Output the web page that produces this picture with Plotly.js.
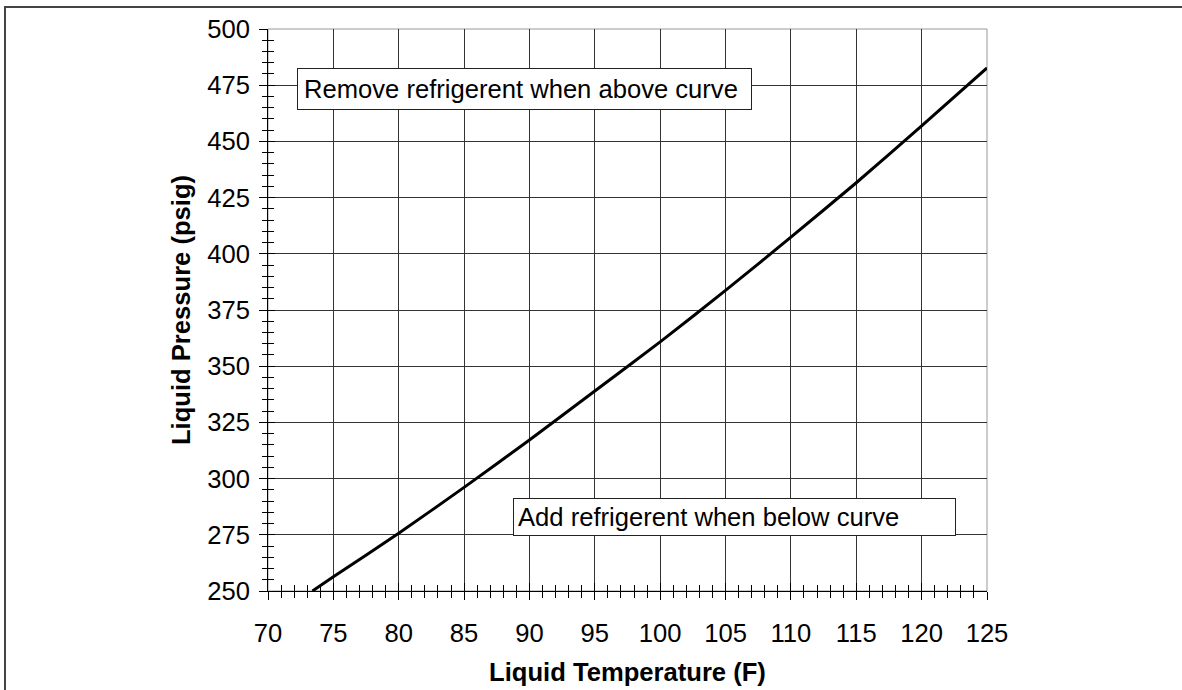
<!DOCTYPE html>
<html>
<head>
<meta charset="utf-8">
<script src="https://cdn.plot.ly/plotly-3.0.1.min.js"></script>
<style>
html,body{margin:0;padding:0;background:#fff;}
#chart{width:1182px;height:690px;}
</style>
</head>
<body>
<div id="chart"></div>
<script>
// Liquid temperature (F) and liquid pressure (psig)
const liquidTemp = [73.4, 75, 80, 85, 90, 95, 100, 105, 110, 115, 120, 125];
const liquidPressure = [250, 256.3, 275.7, 296.1, 317.2, 339.0, 360.8, 383.7, 407.4, 431.6, 456.9, 482.7];

const xTickVals = [70, 75, 80, 85, 90, 95, 100, 105, 110, 115, 120, 125];
const yTickVals = [250, 275, 300, 325, 350, 375, 400, 425, 450, 475, 500];

const xTitle = 'Liquid Temperature (F)';
const yTitle = 'Liquid Pressure (psig)';
const noteAbove = 'Remove refrigerent when above curve';
const noteBelow = 'Add refrigerent when below curve';

const FONT = 'Arial, "Liberation Sans", sans-serif';
const FS = 25.6;

const traces = [
  {
    x: liquidTemp, y: liquidPressure, type: 'scatter', mode: 'lines',
    line: {color: '#000', width: 3, shape: 'spline', smoothing: 0.6}, hoverinfo: 'skip', showlegend: false
  },
  {
    // same curve on overlay axes (carries the inward half of the crossing ticks)
    x: liquidTemp, y: liquidPressure, type: 'scatter', mode: 'lines',
    xaxis: 'x2', yaxis: 'y2', line: {color: 'rgba(0,0,0,0)', width: 0},
    hoverinfo: 'skip', showlegend: false
  }
];

const layout = {
  width: 1182, height: 690,
  margin: {l: 268, r: 195, t: 29, b: 99},
  paper_bgcolor: '#fff', plot_bgcolor: '#fff',
  font: {family: FONT, size: FS, color: '#000'},
  showlegend: false,
  xaxis: {
    range: [70, 125], tickvals: xTickVals, ticktext: xTickVals.map(String),
    showline: true, linecolor: '#000', linewidth: 1,
    ticks: 'outside', ticklen: 8, tickwidth: 1, tickcolor: '#000',
    minor: {dtick: 1, ticks: 'outside', ticklen: 6, tickcolor: '#000', tickwidth: 1, showgrid: false},
    showgrid: true, gridcolor: '#333', gridwidth: 1,
    zeroline: false, ticklabelstandoff: 11,
    tickfont: {family: FONT, size: FS, color: '#000'},
    title: {text: xTitle, font: {family: FONT, size: FS, color: '#000', weight: 'bold'}, standoff: 17},
    automargin: false, fixedrange: true
  },
  yaxis: {
    range: [250, 500], tickvals: yTickVals, ticktext: yTickVals.map(String),
    showline: true, linecolor: '#000', linewidth: 1,
    ticks: 'outside', ticklen: 8, tickwidth: 1, tickcolor: '#000',
    minor: {dtick: 5, ticks: 'outside', ticklen: 5, tickcolor: '#000', tickwidth: 1, showgrid: false},
    showgrid: true, gridcolor: '#333', gridwidth: 1,
    zeroline: false, ticklabelstandoff: 4,
    tickfont: {family: FONT, size: FS, color: '#000'},
    title: {text: yTitle, font: {family: FONT, size: FS, color: '#000', weight: 'bold'}, standoff: 9},
    automargin: false, fixedrange: true
  },
  xaxis2: {
    overlaying: 'x', anchor: 'y2', range: [70, 125], tickvals: xTickVals,
    showticklabels: false, showgrid: false, showline: false, zeroline: false,
    ticks: 'inside', ticklen: 8, tickcolor: '#000', tickwidth: 1,
    minor: {dtick: 1, ticks: 'inside', ticklen: 6, tickcolor: '#000', tickwidth: 1, showgrid: false},
    fixedrange: true
  },
  yaxis2: {
    overlaying: 'y', anchor: 'x2', side: 'left', range: [250, 500], tickvals: yTickVals,
    showticklabels: false, showgrid: false, showline: false, zeroline: false,
    ticks: 'inside', ticklen: 7, tickcolor: '#000', tickwidth: 1,
    minor: {dtick: 5, ticks: 'inside', ticklen: 6, tickcolor: '#000', tickwidth: 1, showgrid: false},
    fixedrange: true
  },
  shapes: [
    // plot-area frame (top/right in grey)
    {type: 'rect', xref: 'paper', yref: 'paper', x0: 0, x1: 1, y0: 0, y1: 1,
     line: {color: '#999', width: 1}, layer: 'below'},
    // outer chart border
    {type: 'rect', xref: 'paper', yref: 'paper', x0: -0.3658, x1: 1.4, y0: -0.35, y1: 1.039,
     line: {color: '#444', width: 2}, fillcolor: 'rgba(0,0,0,0)'}
  ],
  annotations: [
    {xref: 'x', yref: 'y', x: 72.24, y: 473.4, xanchor: 'left', yanchor: 'middle',
     text: noteAbove, showarrow: false, align: 'left', width: 441,
     font: {family: FONT, size: FS, color: '#000'},
     bgcolor: '#fff', bordercolor: '#222', borderwidth: 1, borderpad: 6},
    {xref: 'x', yref: 'y', x: 88.76, y: 282.7, xanchor: 'left', yanchor: 'middle',
     text: noteBelow, showarrow: false, align: 'left', width: 433,
     font: {family: FONT, size: FS, color: '#000'},
     bgcolor: '#fff', bordercolor: '#222', borderwidth: 1, borderpad: 4}
  ]
};

Plotly.newPlot('chart', traces, layout, {displayModeBar: false, staticPlot: true});
</script>
</body>
</html>
